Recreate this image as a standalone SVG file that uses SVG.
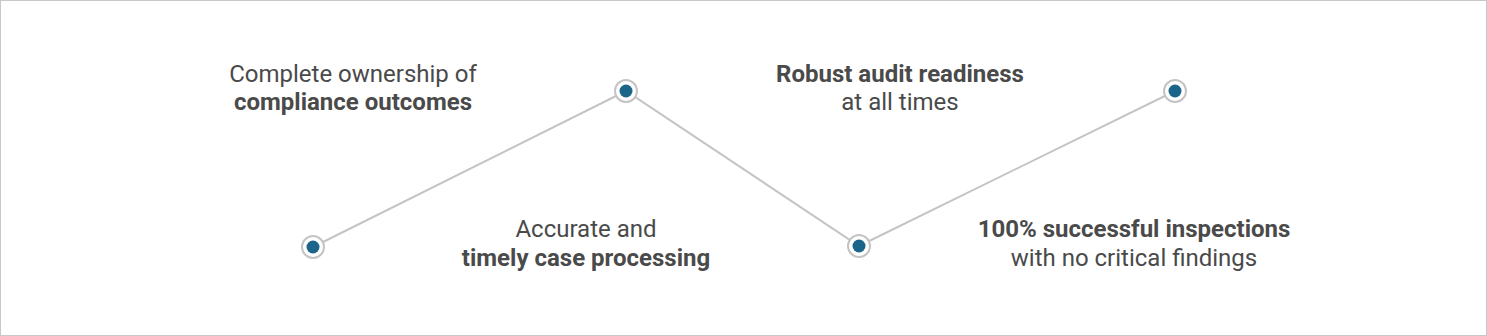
<svg xmlns="http://www.w3.org/2000/svg" width="1487" height="336" viewBox="0 0 1487 336">
<style>
.t{font-family:Roboto,"Liberation Sans",sans-serif;font-size:24px;fill:#4a4a4a;text-anchor:middle}
.b{font-weight:bold}
.ring{fill:#fff;stroke:#c4c4c4;stroke-width:2}
.dot{fill:#1a6589}
.ln{fill:none;stroke:#c4c4c4;stroke-width:2}
</style>
<rect x="0.5" y="0.5" width="1486" height="335" fill="#fff" stroke="#c8c8c8" stroke-width="1"/>
<g id="connectors">
<polyline class="ln" points="313,247 626,91 859,246 1175,91"/>
</g>
<g id="n1"><circle class="ring" cx="313" cy="247" r="11"/><circle class="dot" cx="313" cy="247" r="6.5"/></g>
<g id="n2"><circle class="ring" cx="626" cy="91" r="11"/><circle class="dot" cx="626" cy="91" r="6.5"/></g>
<g id="n3"><circle class="ring" cx="859" cy="246" r="11"/><circle class="dot" cx="859" cy="246" r="6.5"/></g>
<g id="n4"><circle class="ring" cx="1175" cy="91" r="11"/><circle class="dot" cx="1175" cy="91" r="6.5"/></g>
<g id="l1"><text class="t" x="353" y="82">Complete ownership of</text><text class="t b" x="353" y="110">compliance outcomes</text></g>
<g id="l2"><text class="t" x="586" y="237">Accurate and</text><text class="t b" x="586" y="266">timely case processing</text></g>
<g id="l3"><text class="t b" x="900" y="82">Robust audit readiness</text><text class="t" x="900" y="110">at all times</text></g>
<g id="l4"><text class="t b" x="1134" y="237">100% successful inspections</text><text class="t" x="1134" y="266">with no critical findings</text></g>
</svg>
